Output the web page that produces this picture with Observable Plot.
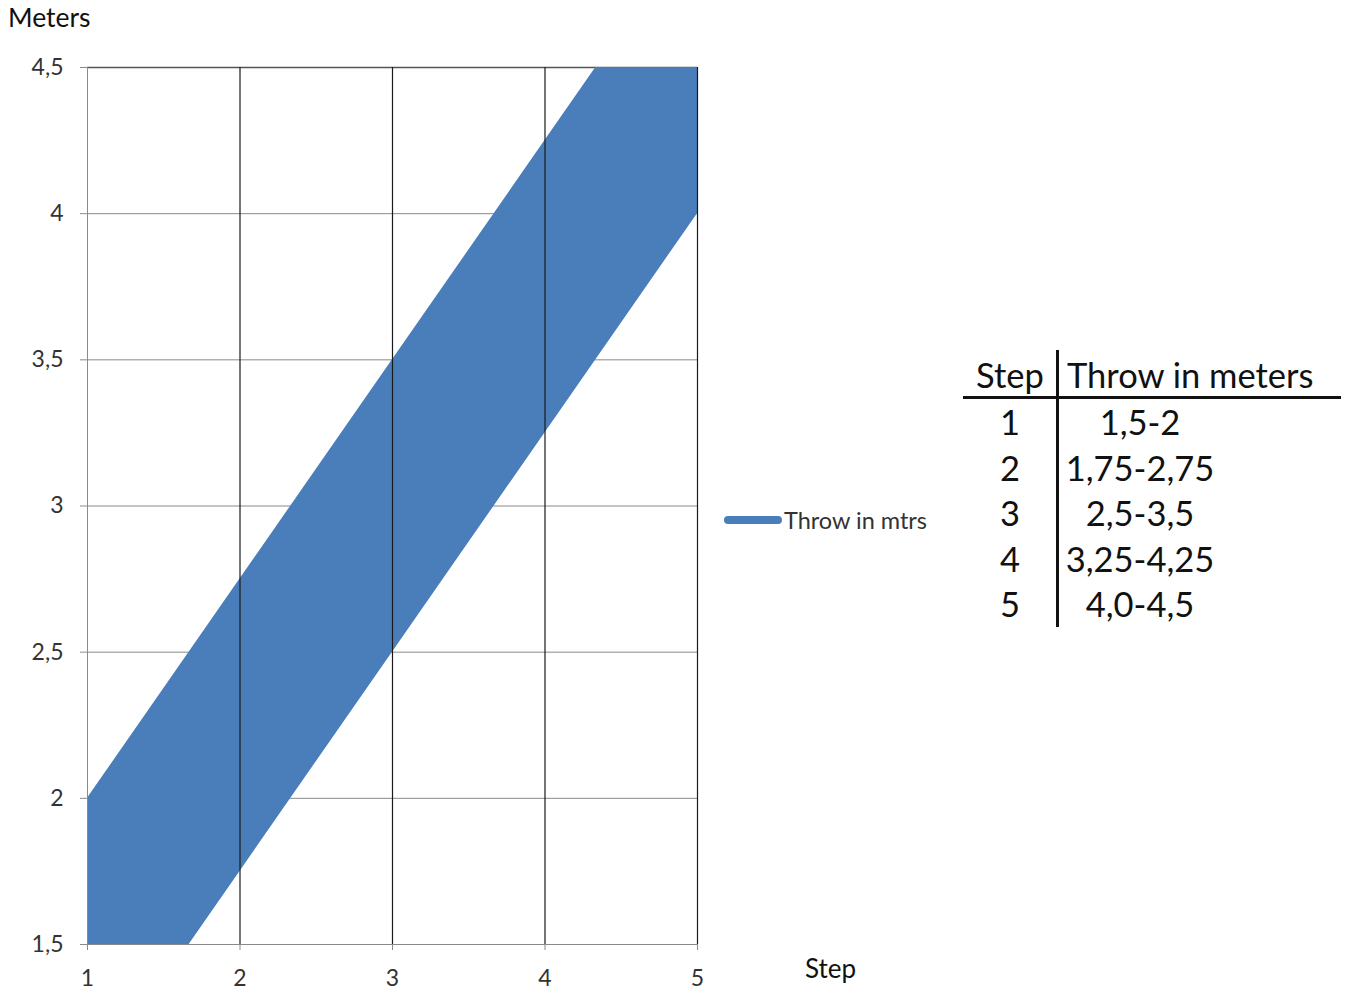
<!DOCTYPE html>
<html>
<head>
<meta charset="utf-8">
<script src="https://cdn.jsdelivr.net/npm/d3@7"></script>
<script src="https://cdn.jsdelivr.net/npm/@observablehq/plot@0.6"></script>
<style>
  body { margin: 0; background: #fff; font-family: Lato, "Open Sans", sans-serif; }
  #wrap { position: relative; width: 1354px; height: 994px; overflow: hidden; }
  #chart { position: absolute; left: 0; top: 0; }
  .lbl { position: absolute; color: #111; white-space: nowrap; }
  #ylabel { left: 8px; top: 1px; font-size: 26.5px; }
  #xlabel { left: 805px; top: 952px; font-size: 26px; }
  #legend { position: absolute; left: 724px; top: 506px; display: flex; align-items: center; font-size: 23.5px; color: #333; }
  #legend .sw { width: 58px; height: 8px; border-radius: 4px; background: #4A7EBB; margin-right: 2px; }
  #tbl { position: absolute; left: 963px; top: 350px; width: 378px; height: 277px; font-size: 34.5px; color: #111; }
  #tbl .row { position: absolute; left: 0; width: 378px; height: 46px; line-height: 46px; }
  #tbl .c1 { position: absolute; left: 0; width: 94px; text-align: center; }
  #tbl .c2 { position: absolute; left: 94px; width: 284px; text-align: center; }
  #tbl .vline { position: absolute; left: 93px; top: 0; width: 3px; height: 277px; background: #111; }
  #tbl .hline { position: absolute; left: 0; top: 46px; width: 378px; height: 2.5px; background: #111; }
</style>
</head>
<body>
<div id="wrap">
  <div id="chart"></div>
  <div class="lbl" id="ylabel">Meters</div>
  <div class="lbl" id="xlabel">Step</div>
  <div id="legend"><div class="sw"></div><span>Throw in mtrs</span></div>
  <div id="tbl"></div>
</div>
<script>
// Chart data
const steps = [1, 2, 3, 4, 5];
const lowerValues = [1.0, 1.75, 2.5, 3.25, 4.0];
const upperValues = [2.0, 2.75, 3.5, 4.25, 5.0];
const yTicks = [1.5, 2, 2.5, 3, 3.5, 4, 4.5];
const seriesName = "Throw in mtrs";

// Table data
const tableHeader = ["Step", "Throw in meters"];
const tableSteps = ["1", "2", "3", "4", "5"];
const tableRanges = ["1,5-2", "1,75-2,75", "2,5-3,5", "3,25-4,25", "4,0-4,5"];

const data = steps.map((s, i) => ({step: s, lo: lowerValues[i], hi: upperValues[i]}));
const fmt = d => String(d).replace(".", ",");

const chart = Plot.plot({
  width: 960,
  height: 994,
  marginLeft: 87,
  marginRight: 263,
  marginTop: 67,
  marginBottom: 50,
  style: {fontFamily: "Lato, 'Open Sans', sans-serif", fontSize: "23px", color: "#333", background: "transparent"},
  x: {domain: [1, 5], label: null},
  y: {domain: [1.5, 4.5], label: null},
  marks: [
    Plot.ruleY(yTicks.filter(d => d < 4.5), {stroke: "#8a8a8a", strokeWidth: 1}),
    Plot.ruleY([4.5], {stroke: "#555", strokeWidth: 1.3}),
    Plot.areaY(data, {x: "step", y1: "lo", y2: "hi", fill: "#4A7EBB", clip: true}),
    Plot.ruleX([1], {stroke: "#8a8a8a", strokeWidth: 1}),
    Plot.ruleX(steps.filter(d => d > 1), {stroke: "#1a1a1a", strokeWidth: 1.2}),
    Plot.axisX(steps, {tickFormat: d => d, tickSize: 6, tickPadding: 19, stroke: "#8a8a8a", fill: "#333", fontSize: 23}),
    Plot.axisY(yTicks, {tickFormat: fmt, tickSize: 7, tickPadding: 17, stroke: "#8a8a8a", fill: "#333", fontSize: 23})
  ]
});
document.getElementById("chart").appendChild(chart);
document.querySelector("#legend span").textContent = seriesName;

// Build table
const tbl = document.getElementById("tbl");
const rowTops = [2, 49, 95, 140, 186, 231];
let html = `<div class="row" style="top:${rowTops[0]}px"><div class="c1">${tableHeader[0]}</div><div class="c2" style="text-align:left;padding-left:10px;box-sizing:border-box">${tableHeader[1]}</div></div>`;
tableSteps.forEach((s, i) => {
  html += `<div class="row" style="top:${rowTops[i + 1]}px"><div class="c1">${s}</div><div class="c2" style="width:166px">${tableRanges[i]}</div></div>`;
});
html += `<div class="vline"></div><div class="hline"></div>`;
tbl.innerHTML = html;
</script>
</body>
</html>
